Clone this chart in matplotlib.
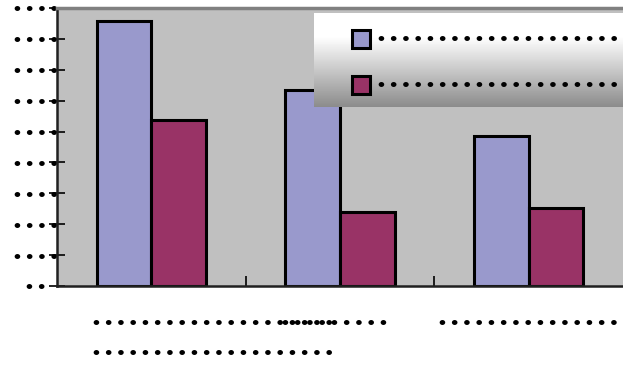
import matplotlib.pyplot as plt
import numpy as np
from matplotlib.patches import Rectangle
from matplotlib import transforms

plt.rcParams["font.family"] = ["Liberation Sans", "DejaVu Sans"]
plt.rcParams["font.weight"] = "bold"

# series values read in axis units (ticks 0..9)
categories = [0, 1, 2]
series_a = [8.57, 6.36, 4.84]
series_b = [5.36, 2.40, 2.53]
series_names = ["•" * 20, "•" * 20]
ytick_vals = list(range(10))
ytick_labels = ["••"] + ["••••"] * 9
cat_labels = [("•" * 20, "•" * 20), ("•" * 9,), ("•" * 15,)]

FS = 14


def dots(s):
    # glyphs separated by a space so they sit ~12px apart
    return " ".join(s)


col_a = "#9999CC"
col_b = "#993366"

fig = plt.figure(figsize=(6.23, 3.65), dpi=100)
ax = fig.add_axes([57 / 623, 79 / 365, 1 - 57 / 623, 278 / 365])
ax.set_facecolor("#C0C0C0")

x = np.array(categories)
w = 0.29
ax.bar(x - w / 2, series_a, w, color=col_a, edgecolor="black", linewidth=2.2)
ax.bar(x + w / 2, series_b, w, color=col_b, edgecolor="black", linewidth=2.2)

ax.set_xlim(-0.5, 2.5)
ax.set_ylim(0, 9)

ax.spines["right"].set_visible(False)
ax.spines["top"].set_color("#808080")
ax.spines["top"].set_linewidth(2.5)
ax.spines["left"].set_color("#202020")
ax.spines["left"].set_linewidth(1.8)
ax.spines["bottom"].set_color("#202020")
ax.spines["bottom"].set_linewidth(1.8)

ax.set_yticks(ytick_vals)
ax.set_yticklabels([dots(t) for t in ytick_labels], fontsize=FS, ha="center")
# label centres sit ~21px left of the spine
ax.tick_params(axis="y", direction="inout", length=11, width=1.2, pad=10)

ax.set_xticks([0.5, 1.5])
ax.set_xticklabels([])
ax.tick_params(axis="x", direction="in", length=7, width=1.2)

# category labels under the axis
tr = transforms.blended_transform_factory(ax.transData, fig.transFigure)
y1 = (365 - 323) / 365
y2 = (365 - 353) / 365
ax.text(-0.31, y1, dots(cat_labels[0][0]), transform=tr,
        ha="left", va="center", fontsize=FS, clip_on=False)
ax.text(-0.31, y2, dots(cat_labels[0][1]), transform=tr,
        ha="left", va="center", fontsize=FS, clip_on=False)
ax.text(0.97, y1, dots(cat_labels[1][0]), transform=tr,
        ha="center", va="center", fontsize=FS, clip_on=False)
ax.text(2.0, y1, dots(cat_labels[2][0]), transform=tr,
        ha="center", va="center", fontsize=FS, clip_on=False)

# legend box with grey gradient
lax = fig.add_axes([314 / 623, (365 - 107) / 365, (623 - 314) / 623, 94 / 365])
grad = np.concatenate([np.ones(25), np.linspace(1.0, 0.55, 75)])[:, None]
lax.imshow(grad, cmap="gray", vmin=0, vmax=1, aspect="auto",
           extent=[0, 1, 0, 1], origin="upper")
lax.set_xlim(0, 1)
lax.set_ylim(0, 1)
lax.axis("off")
bw, bh = 18 / 309, 18 / 94
for i, (c, name) in enumerate(zip([col_a, col_b], series_names)):
    yc = 1 - (26 + 46 * i) / 94
    lax.add_patch(Rectangle((38 / 309, yc - bh / 2), bw, bh, facecolor=c,
                            edgecolor="black", linewidth=2.2))
    lax.text(64 / 309, yc, dots(name), ha="left", va="center", fontsize=FS)

fig.savefig("out.png", dpi=100)
